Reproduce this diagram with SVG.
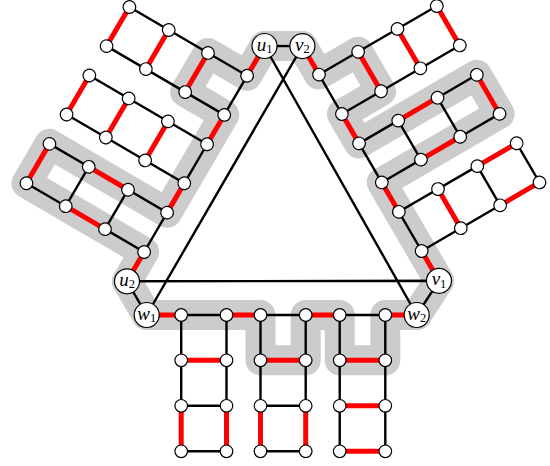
<svg xmlns="http://www.w3.org/2000/svg" width="550" height="466" viewBox="0 0 550 466">
<style>
.g{fill:none;stroke:#cccccc;stroke-width:30;stroke-linejoin:round;stroke-linecap:round}
.k{fill:none;stroke:#000;stroke-width:2.4;stroke-linecap:round}
.r{fill:none;stroke:#ff0000;stroke-width:5}
.n{fill:#fff;stroke:#000;stroke-width:1.2}
.lb{font-family:"Liberation Serif","DejaVu Serif",serif;font-size:19px;font-style:italic;text-anchor:middle;fill:#000}
.sb{font-size:12.5px;font-style:normal}
</style>
<g id="connectors">
  <g id="grey">
    <path class="g" d="M264.5 46L302.4 46.1M439 280.8L416.7 315M146.7 315L127 281.3"/>
    <path class="g" transform="translate(146.7,315)" d="M0 0H113.8V45.3H159V0H193V45.3H238.6V0H270"/>
    <path class="g" transform="translate(439,280.8) rotate(-120.2)" d="M0 0H113.8V136.3H159V0H193V45.3H238.6V0H271.6"/>
    <path class="g" transform="translate(264.5,46) rotate(120.3)" d="M0 0H34.5V45.3H79.8V0H193V136.3H238.6V0H272.5"/>
  </g>
  <g id="triangle">
    <path class="k" d="M264.5 46L416.7 315M302.4 46.1L146.7 315M127 281.3L439 280.8M264.5 46L302.4 46.1M439 280.8L416.7 315M146.7 315L127 281.3"/>
  </g>
  <g id="bottom-edges" transform="translate(146.7,315)">
    <path class="k" d="M34.5 0H79.8M113.8 0H159M193 0H238.6
      M34.5 0V90.8M79.8 0V90.8M34.5 90.8H79.8M34.5 136.3H79.8
      M113.8 0V90.8M159 0V90.8M113.8 90.8H159M113.8 136.3H159
      M193 0V136.3M238.6 0V136.3"/>
    <path class="r" d="M0 0H34.5M79.8 0H113.8M159 0H193M238.6 0H270
      M34.5 45.3H79.8M34.5 90.8V136.3M79.8 90.8V136.3
      M113.8 45.3H159M113.8 90.8V136.3M159 90.8V136.3
      M193 45.3H238.6M193 90.8H238.6M193 136.3H238.6"/>
  </g>
  <g id="left-edges" transform="translate(264.5,46) rotate(120.3)">
    <path class="k" d="M34.5 0H79.8M113.8 0H159M193 0H238.6
      M34.5 0V136.3M79.8 0V136.3
      M113.8 0V136.3M159 0V136.3
      M193 0V45.3M238.6 0V45.3M193 90.8V136.3M238.6 90.8V136.3M193 45.3H238.6M193 90.8H238.6"/>
    <path class="r" d="M0 0H34.5M79.8 0H113.8M159 0H193M238.6 0H272.5
      M34.5 45.3H79.8M34.5 90.8H79.8M34.5 136.3H79.8
      M113.8 45.3H159M113.8 90.8H159M113.8 136.3H159
      M193 45.3V90.8M238.6 45.3V90.8M193 136.3H238.6"/>
  </g>
  <g id="right-edges" transform="translate(439,280.8) rotate(-120.2)">
    <path class="k" d="M34.5 0H79.8M113.8 0H159M193 0H238.6
      M34.5 0V90.8M79.8 0V90.8M34.5 90.8H79.8M34.5 136.3H79.8
      M113.8 0V45.3M159 0V45.3M113.8 90.8V136.3M159 90.8V136.3M113.8 45.3H159M113.8 90.8H159
      M193 0V136.3M238.6 0V136.3"/>
    <path class="r" d="M0 0H34.5M79.8 0H113.8M159 0H193M238.6 0H271.6
      M34.5 45.3H79.8M34.5 90.8V136.3M79.8 90.8V136.3
      M113.8 45.3V90.8M159 45.3V90.8M113.8 136.3H159
      M193 45.3H238.6M193 90.8H238.6M193 136.3H238.6"/>
  </g>
</g>
<g id="bottom-nodes" transform="translate(146.7,315)">
  <g id="b1a0"><circle class="n" cx="34.5" cy="0" r="6.3"/></g>
  <g id="b1b0"><circle class="n" cx="79.8" cy="0" r="6.3"/></g>
  <g id="b1a1"><circle class="n" cx="34.5" cy="45.3" r="6.3"/></g>
  <g id="b1b1"><circle class="n" cx="79.8" cy="45.3" r="6.3"/></g>
  <g id="b1a2"><circle class="n" cx="34.5" cy="90.8" r="6.3"/></g>
  <g id="b1b2"><circle class="n" cx="79.8" cy="90.8" r="6.3"/></g>
  <g id="b1a3"><circle class="n" cx="34.5" cy="136.3" r="6.3"/></g>
  <g id="b1b3"><circle class="n" cx="79.8" cy="136.3" r="6.3"/></g>
  <g id="b2a0"><circle class="n" cx="113.8" cy="0" r="6.3"/></g>
  <g id="b2b0"><circle class="n" cx="159" cy="0" r="6.3"/></g>
  <g id="b2a1"><circle class="n" cx="113.8" cy="45.3" r="6.3"/></g>
  <g id="b2b1"><circle class="n" cx="159" cy="45.3" r="6.3"/></g>
  <g id="b2a2"><circle class="n" cx="113.8" cy="90.8" r="6.3"/></g>
  <g id="b2b2"><circle class="n" cx="159" cy="90.8" r="6.3"/></g>
  <g id="b2a3"><circle class="n" cx="113.8" cy="136.3" r="6.3"/></g>
  <g id="b2b3"><circle class="n" cx="159" cy="136.3" r="6.3"/></g>
  <g id="b3a0"><circle class="n" cx="193" cy="0" r="6.3"/></g>
  <g id="b3b0"><circle class="n" cx="238.6" cy="0" r="6.3"/></g>
  <g id="b3a1"><circle class="n" cx="193" cy="45.3" r="6.3"/></g>
  <g id="b3b1"><circle class="n" cx="238.6" cy="45.3" r="6.3"/></g>
  <g id="b3a2"><circle class="n" cx="193" cy="90.8" r="6.3"/></g>
  <g id="b3b2"><circle class="n" cx="238.6" cy="90.8" r="6.3"/></g>
  <g id="b3a3"><circle class="n" cx="193" cy="136.3" r="6.3"/></g>
  <g id="b3b3"><circle class="n" cx="238.6" cy="136.3" r="6.3"/></g>
</g>
<g id="left-nodes" transform="translate(264.5,46) rotate(120.3)">
  <g id="l1a0"><circle class="n" cx="34.5" cy="0" r="6.3"/></g>
  <g id="l1b0"><circle class="n" cx="79.8" cy="0" r="6.3"/></g>
  <g id="l1a1"><circle class="n" cx="34.5" cy="45.3" r="6.3"/></g>
  <g id="l1b1"><circle class="n" cx="79.8" cy="45.3" r="6.3"/></g>
  <g id="l1a2"><circle class="n" cx="34.5" cy="90.8" r="6.3"/></g>
  <g id="l1b2"><circle class="n" cx="79.8" cy="90.8" r="6.3"/></g>
  <g id="l1a3"><circle class="n" cx="34.5" cy="136.3" r="6.3"/></g>
  <g id="l1b3"><circle class="n" cx="79.8" cy="136.3" r="6.3"/></g>
  <g id="l2a0"><circle class="n" cx="113.8" cy="0" r="6.3"/></g>
  <g id="l2b0"><circle class="n" cx="159" cy="0" r="6.3"/></g>
  <g id="l2a1"><circle class="n" cx="113.8" cy="45.3" r="6.3"/></g>
  <g id="l2b1"><circle class="n" cx="159" cy="45.3" r="6.3"/></g>
  <g id="l2a2"><circle class="n" cx="113.8" cy="90.8" r="6.3"/></g>
  <g id="l2b2"><circle class="n" cx="159" cy="90.8" r="6.3"/></g>
  <g id="l2a3"><circle class="n" cx="113.8" cy="136.3" r="6.3"/></g>
  <g id="l2b3"><circle class="n" cx="159" cy="136.3" r="6.3"/></g>
  <g id="l3a0"><circle class="n" cx="193" cy="0" r="6.3"/></g>
  <g id="l3b0"><circle class="n" cx="238.6" cy="0" r="6.3"/></g>
  <g id="l3a1"><circle class="n" cx="193" cy="45.3" r="6.3"/></g>
  <g id="l3b1"><circle class="n" cx="238.6" cy="45.3" r="6.3"/></g>
  <g id="l3a2"><circle class="n" cx="193" cy="90.8" r="6.3"/></g>
  <g id="l3b2"><circle class="n" cx="238.6" cy="90.8" r="6.3"/></g>
  <g id="l3a3"><circle class="n" cx="193" cy="136.3" r="6.3"/></g>
  <g id="l3b3"><circle class="n" cx="238.6" cy="136.3" r="6.3"/></g>
</g>
<g id="right-nodes" transform="translate(439,280.8) rotate(-120.2)">
  <g id="r1a0"><circle class="n" cx="34.5" cy="0" r="6.3"/></g>
  <g id="r1b0"><circle class="n" cx="79.8" cy="0" r="6.3"/></g>
  <g id="r1a1"><circle class="n" cx="34.5" cy="45.3" r="6.3"/></g>
  <g id="r1b1"><circle class="n" cx="79.8" cy="45.3" r="6.3"/></g>
  <g id="r1a2"><circle class="n" cx="34.5" cy="90.8" r="6.3"/></g>
  <g id="r1b2"><circle class="n" cx="79.8" cy="90.8" r="6.3"/></g>
  <g id="r1a3"><circle class="n" cx="34.5" cy="136.3" r="6.3"/></g>
  <g id="r1b3"><circle class="n" cx="79.8" cy="136.3" r="6.3"/></g>
  <g id="r2a0"><circle class="n" cx="113.8" cy="0" r="6.3"/></g>
  <g id="r2b0"><circle class="n" cx="159" cy="0" r="6.3"/></g>
  <g id="r2a1"><circle class="n" cx="113.8" cy="45.3" r="6.3"/></g>
  <g id="r2b1"><circle class="n" cx="159" cy="45.3" r="6.3"/></g>
  <g id="r2a2"><circle class="n" cx="113.8" cy="90.8" r="6.3"/></g>
  <g id="r2b2"><circle class="n" cx="159" cy="90.8" r="6.3"/></g>
  <g id="r2a3"><circle class="n" cx="113.8" cy="136.3" r="6.3"/></g>
  <g id="r2b3"><circle class="n" cx="159" cy="136.3" r="6.3"/></g>
  <g id="r3a0"><circle class="n" cx="193" cy="0" r="6.3"/></g>
  <g id="r3b0"><circle class="n" cx="238.6" cy="0" r="6.3"/></g>
  <g id="r3a1"><circle class="n" cx="193" cy="45.3" r="6.3"/></g>
  <g id="r3b1"><circle class="n" cx="238.6" cy="45.3" r="6.3"/></g>
  <g id="r3a2"><circle class="n" cx="193" cy="90.8" r="6.3"/></g>
  <g id="r3b2"><circle class="n" cx="238.6" cy="90.8" r="6.3"/></g>
  <g id="r3a3"><circle class="n" cx="193" cy="136.3" r="6.3"/></g>
  <g id="r3b3"><circle class="n" cx="238.6" cy="136.3" r="6.3"/></g>
</g>
<g id="u1"><circle class="n" cx="264.5" cy="46" r="12.5"/><text class="lb" x="264.5" y="50.5">u<tspan class="sb" dy="2.5">1</tspan></text></g>
<g id="v2"><circle class="n" cx="302.4" cy="46.1" r="12.5"/><text class="lb" x="302.4" y="50.5">v<tspan class="sb" dy="2.5">2</tspan></text></g>
<g id="u2"><circle class="n" cx="127" cy="281.3" r="12.5"/><text class="lb" x="127" y="285.8">u<tspan class="sb" dy="2.5">2</tspan></text></g>
<g id="w1"><circle class="n" cx="146.7" cy="315" r="12.5"/><text class="lb" x="146.7" y="319.5">w<tspan class="sb" dy="2.5">1</tspan></text></g>
<g id="w2"><circle class="n" cx="416.7" cy="315" r="12.5"/><text class="lb" x="416.7" y="319.5">w<tspan class="sb" dy="2.5">2</tspan></text></g>
<g id="v1"><circle class="n" cx="439" cy="280.8" r="12.5"/><text class="lb" x="439" y="285.3">v<tspan class="sb" dy="2.5">1</tspan></text></g>
</svg>
